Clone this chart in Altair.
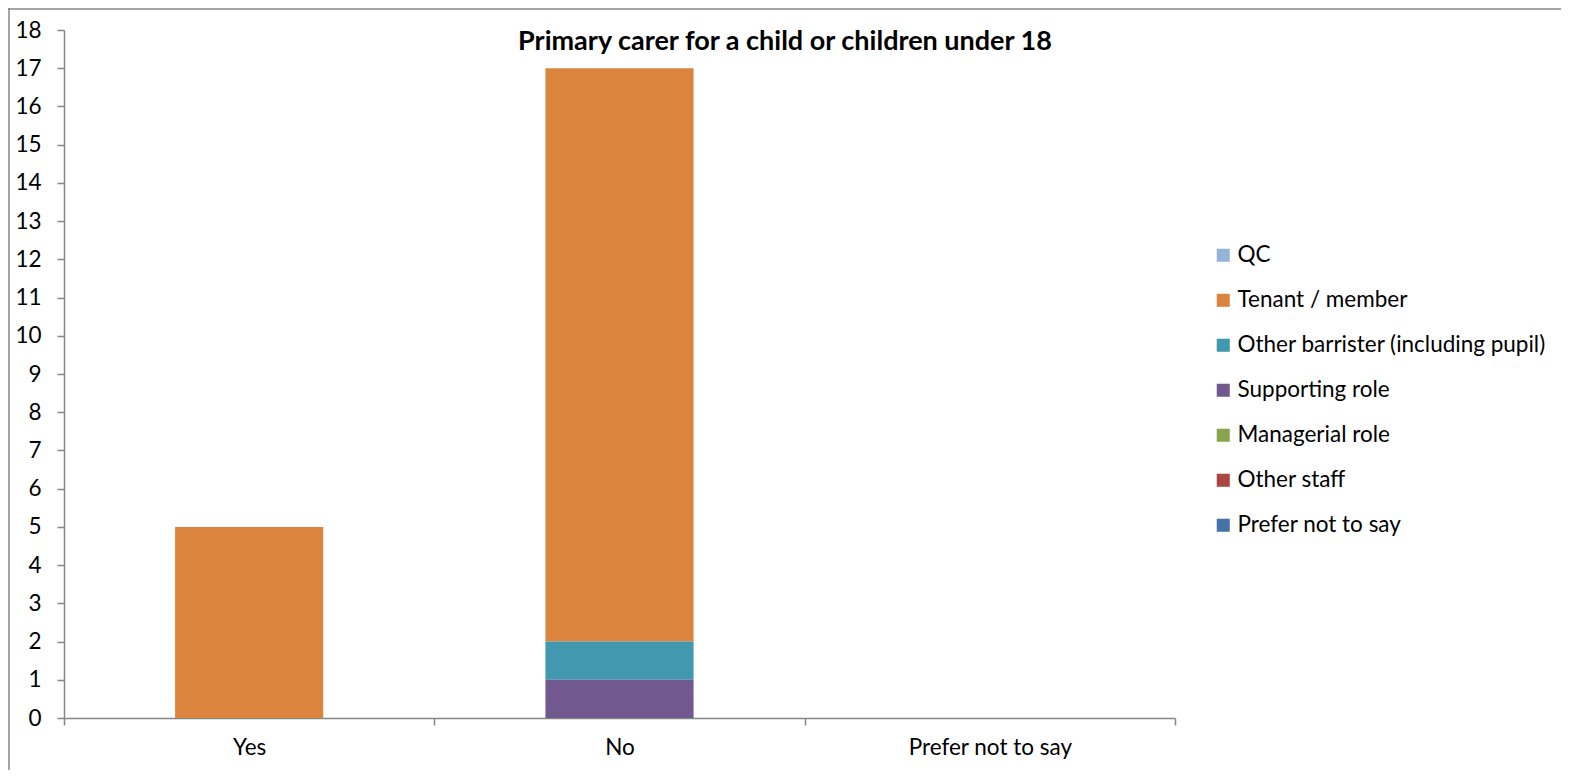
import altair as alt
import pandas as pd

categories = ["Yes", "No", "Prefer not to say"]
roles = ["QC", "Tenant / member", "Other barrister (including pupil)", "Supporting role",
         "Managerial role", "Other staff", "Prefer not to say"]
colors = ["#95B3D7", "#DB843D", "#4198AF", "#71588F", "#89A54E", "#AA4643", "#4572A7"]
values = {
    "QC": [0, 0, 0],
    "Tenant / member": [5, 15, 0],
    "Other barrister (including pupil)": [0, 1, 0],
    "Supporting role": [0, 1, 0],
    "Managerial role": [0, 0, 0],
    "Other staff": [0, 0, 0],
    "Prefer not to say": [0, 0, 0],
}
title_text = "Primary carer for a child or children under 18"

rows = []
for r_i, r in enumerate(roles):
    for c_i, c in enumerate(categories):
        rows.append({"category": c, "role": r, "value": values[r][c_i],
                     "stack": len(roles) - 1 - r_i})
df = pd.DataFrame(rows)

FONT = "Lato"
GRAY = "#868686"

bars = alt.Chart(df).mark_bar(width={"band": 0.4}).encode(
    x=alt.X("category:N", sort=categories, title=None,
            scale=alt.Scale(paddingInner=0, paddingOuter=0),
            axis=alt.Axis(labelAngle=0, tickBand="extent", tickSize=7, labelPadding=11,
                          labelFontSize=22.5, labelFont=FONT, labelColor="#000000",
                          domainColor=GRAY, tickColor=GRAY, domainWidth=1.5, tickWidth=1.5)),
    y=alt.Y("value:Q", stack="zero", title=None,
            scale=alt.Scale(domain=[0, 18], nice=False),
            axis=alt.Axis(values=list(range(0, 19)), tickSize=7, labelPadding=16, grid=False,
                          labelFontSize=22.5, labelFont=FONT, labelColor="#000000",
                          domainColor=GRAY, tickColor=GRAY, domainWidth=1.5, tickWidth=1.5)),
    color=alt.Color("role:N", scale=alt.Scale(domain=roles, range=colors), title=None,
                    legend=alt.Legend(orient="none", legendX=1148, legendY=214,
                                      symbolType="square", symbolSize=170, symbolStrokeWidth=0,
                                      labelFontSize=22.5, labelFont=FONT, labelColor="#000000",
                                      labelLimit=0, rowPadding=22, labelOffset=3, symbolOpacity=1)),
    order=alt.Order("stack:Q", sort="ascending"),
)

title = alt.Chart(pd.DataFrame({"t": [title_text]})).mark_text(
    fontWeight="bold", fontSize=27, font=FONT, color="#000000", baseline="middle", align="center"
).encode(x=alt.value(721), y=alt.value(12), text="t:N")

border_left = alt.Chart(pd.DataFrame({"t": [0]})).mark_rule(color=GRAY, strokeWidth=1.5).encode(
    x=alt.value(-55), y=alt.value(-22), y2=alt.value(740))
border_top = alt.Chart(pd.DataFrame({"t": [0]})).mark_rule(color=GRAY, strokeWidth=1.5).encode(
    x=alt.value(-56), x2=alt.value(1497), y=alt.value(-21))

chart = alt.layer(bars, title, border_left, border_top).properties(
    width=1111, height=688,
    padding={"left": 56, "top": 22, "right": 386, "bottom": 52},
    autosize="none",
).configure(background="#ffffff").configure_view(stroke=None)

chart.save("out.html", embed_options={"renderer": "svg", "actions": False})
